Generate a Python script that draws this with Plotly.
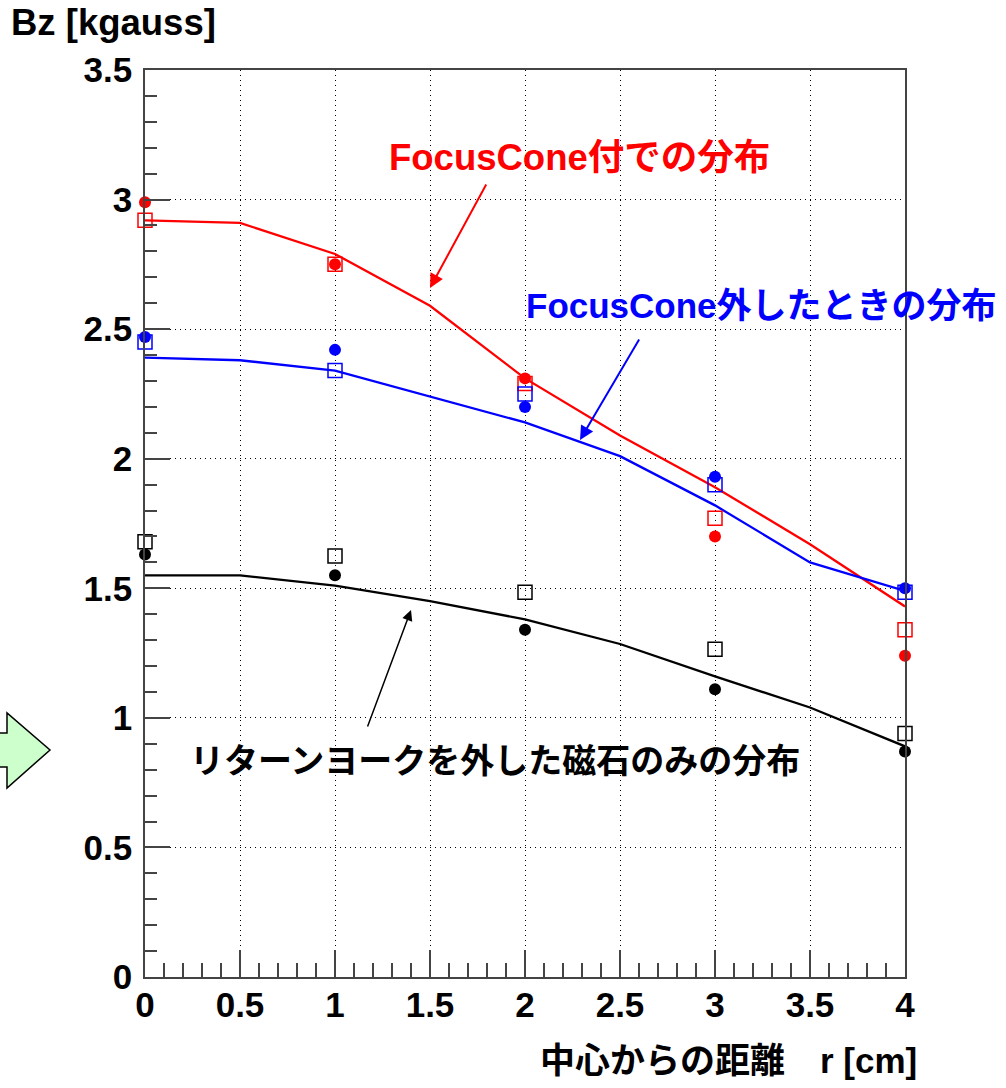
import plotly.graph_objects as go

# ---- data ----
r_points = [0, 1, 2, 3, 4]
red_circle = [2.99, 2.75, 2.31, 1.70, 1.24]
red_square = [2.92, 2.75, 2.29, 1.77, 1.34]
blue_circle = [2.47, 2.42, 2.20, 1.93, 1.50]
blue_square = [2.45, 2.34, 2.25, 1.90, 1.485]
black_circle = [1.63, 1.55, 1.34, 1.11, 0.87]
black_square = [1.68, 1.625, 1.485, 1.265, 0.94]

r_curve = [0, 0.5, 1, 1.5, 2, 2.5, 3, 3.5, 4]
red_curve = [2.92, 2.91, 2.79, 2.59, 2.31, 2.09, 1.89, 1.67, 1.43]
blue_curve = [2.39, 2.38, 2.34, 2.24, 2.14, 2.01, 1.82, 1.60, 1.49]
black_curve = [1.55, 1.55, 1.51, 1.45, 1.38, 1.285, 1.16, 1.04, 0.89]

x_ticks = [0, 0.5, 1, 1.5, 2, 2.5, 3, 3.5, 4]
x_tick_labels = ["0", "0.5", "1", "1.5", "2", "2.5", "3", "3.5", "4"]
y_ticks = [0, 0.5, 1, 1.5, 2, 2.5, 3, 3.5]
y_tick_labels = ["0", "0.5", "1", "1.5", "2", "2.5", "3", "3.5"]

label_red = "FocusCone付での分布"
label_blue = "FocusCone外したときの分布"
label_black = "リターンヨークを外した磁石のみの分布"
x_title = "中心からの距離\u3000r [cm]"
y_title = "Bz [kgauss]"

FONT = "Liberation Sans, Arial, Noto Sans CJK JP"
RED = "#ff0000"
BLUE = "#0000ff"
BLACK = "#000000"

fig = go.Figure()

for ys, col in [(red_curve, RED), (blue_curve, BLUE), (black_curve, BLACK)]:
    fig.add_trace(go.Scatter(x=r_curve, y=ys, mode="lines",
                             line=dict(color=col, width=2.3), showlegend=False,
                             hoverinfo="skip"))

for ys, col in [(red_square, RED), (blue_square, BLUE), (black_square, BLACK)]:
    fig.add_trace(go.Scatter(x=r_points, y=ys, mode="markers",
                             marker=dict(symbol="square-open", size=14, color=col,
                                         line=dict(width=1.5, color=col)),
                             showlegend=False, cliponaxis=False))

for ys, col in [(red_circle, RED), (blue_circle, BLUE), (black_circle, BLACK)]:
    fig.add_trace(go.Scatter(x=r_points, y=ys, mode="markers",
                             marker=dict(symbol="circle", size=12, color=col),
                             showlegend=False, cliponaxis=False))

axis_common = dict(
    showline=True, linecolor="#444444", linewidth=1.5, mirror=True,
    ticks="inside", tickcolor="#444444", tickwidth=1.5,
    showgrid=True, gridcolor="#000000", griddash="1px,4px", gridwidth=1.3,
    zeroline=False,
    tickfont=dict(family=FONT, size=35, color="black", weight="bold"),
)

fig.update_xaxes(range=[0, 4], tickvals=x_ticks, ticktext=x_tick_labels,
                 ticklen=27, minor=dict(dtick=0.1, ticklen=14, ticks="inside",
                                        tickcolor="#444444", tickwidth=1.5, showgrid=False),
                 ticklabelstandoff=-4, **axis_common)
fig.update_yaxes(range=[0, 3.5], tickvals=y_ticks, ticktext=y_tick_labels,
                 ticklen=25, minor=dict(dtick=0.1, ticklen=12, ticks="inside",
                                        tickcolor="#444444", tickwidth=1.5, showgrid=False),
                 ticklabelstandoff=4, **axis_common)

L, R, T, B = 145, 101, 70, 111
W, H = 1006, 1088
pw, ph = W - L - R, H - T - B


def px(xp):
    return (xp - L) / pw


def py(yp):
    return (H - B - yp) / ph


annotations = [
    dict(text=y_title, xref="paper", yref="paper", x=px(9), y=py(23),
         xanchor="left", yanchor="middle", showarrow=False,
         font=dict(family=FONT, size=36.5, color="black", weight="bold")),
    dict(text=x_title, xref="paper", yref="paper", x=px(919), y=py(1060),
         xanchor="right", yanchor="middle", showarrow=False,
         font=dict(family=FONT, size=35, color="black", weight="bold")),
    # labels
    dict(text=label_red, xref="paper", yref="paper", x=px(579), y=py(157),
         xanchor="center", yanchor="middle", showarrow=False,
         font=dict(family=FONT, size=36.5, color=RED, weight="bold")),
    dict(text=label_blue, xref="paper", yref="paper", x=px(761), y=py(305),
         xanchor="center", yanchor="middle", showarrow=False,
         font=dict(family=FONT, size=35, color=BLUE, weight="bold")),
    dict(text=label_black, xref="paper", yref="paper", x=px(495), y=py(761),
         xanchor="center", yanchor="middle", showarrow=False,
         font=dict(family=FONT, size=34, color=BLACK, weight="bold")),
    # arrows
    dict(text="", xref="paper", yref="paper", x=px(430), y=py(288),
         ax=57, ay=-105, showarrow=True, arrowhead=2, arrowsize=1.4,
         arrowwidth=2, arrowcolor=RED),
    dict(text="", xref="paper", yref="paper", x=px(580), y=py(440),
         ax=60, ay=-102, showarrow=True, arrowhead=2, arrowsize=1.4,
         arrowwidth=2, arrowcolor=BLUE),
    dict(text="", xref="paper", yref="paper", x=px(411), y=py(610),
         ax=-44, ay=118, showarrow=True, arrowhead=2, arrowsize=1.4,
         arrowwidth=1.5, arrowcolor=BLACK),
]

pts = [(-10, 733), (7, 733), (7, 713), (50, 750), (7, 788), (7, 767), (-10, 767)]
path = "M " + " L ".join(f"{px(a):.5f},{py(b):.5f}" for a, b in pts) + " Z"

fig.update_layout(
    width=W, height=H,
    margin=dict(l=L, r=R, t=T, b=B),
    paper_bgcolor="white", plot_bgcolor="white",
    showlegend=False,
    annotations=annotations,
    shapes=[dict(type="path", xref="paper", yref="paper", path=path,
                 fillcolor="#ccffcc", line=dict(color="black", width=1.5),
                 layer="above")],
)

fig.write_html("out.html")
